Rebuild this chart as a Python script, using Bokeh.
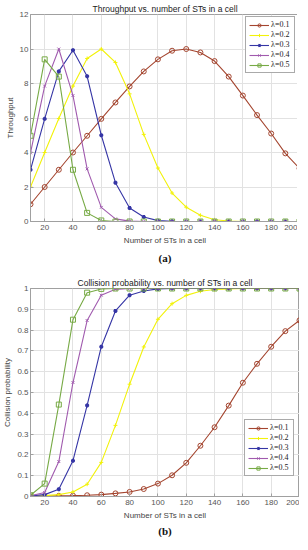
from bokeh.plotting import figure
from bokeh.layouts import column
from bokeh.models import FixedTicker, Title, Legend, LegendItem, Range1d
from bokeh.embed import file_html
from bokeh.resources import INLINE

n_sts = [10, 20, 30, 40, 50, 60, 70, 80, 90, 100, 110, 120, 130, 140, 150, 160, 170, 180, 190, 200]
labels = ["λ=0.1", "λ=0.2", "λ=0.3", "λ=0.4", "λ=0.5"]

thr_01 = [1.0, 2.0, 3.0, 4.0, 4.97, 5.95, 6.9, 7.83, 8.7, 9.4, 9.9, 10.0, 9.8, 9.3, 8.4, 7.3, 6.17, 5.1, 3.95, 3.08]
thr_02 = [2.0, 4.0, 5.97, 7.85, 9.45, 10.0, 9.22, 7.4, 5.05, 3.1, 1.65, 0.83, 0.36, 0.1, 0.03, 0.0, 0.0, 0.0, 0.0, 0.0]
thr_03 = [3.0, 5.95, 8.7, 9.93, 8.42, 5.0, 2.25, 0.78, 0.26, 0.05, 0.01, 0.0, 0.0, 0.0, 0.0, 0.0, 0.0, 0.0, 0.0, 0.0]
thr_04 = [3.98, 7.85, 10.0, 7.3, 3.05, 0.82, 0.15, 0.02, 0.0, 0.0, 0.0, 0.0, 0.0, 0.0, 0.0, 0.0, 0.0, 0.0, 0.0, 0.0]
thr_05 = [4.97, 9.4, 8.4, 3.0, 0.5, 0.06, 0.0, 0.0, 0.0, 0.0, 0.0, 0.0, 0.0, 0.0, 0.0, 0.0, 0.0, 0.0, 0.0, 0.0]

col_01 = [0.001, 0.002, 0.003, 0.004, 0.006, 0.009, 0.015, 0.022, 0.036, 0.062, 0.102, 0.162, 0.244, 0.333, 0.437, 0.547, 0.638, 0.72, 0.795, 0.847]
col_02 = [0.002, 0.004, 0.009, 0.022, 0.059, 0.164, 0.342, 0.54, 0.719, 0.852, 0.927, 0.967, 0.987, 0.995, 0.998, 1.0, 1.0, 1.0, 1.0, 1.0]
col_03 = [0.003, 0.009, 0.035, 0.172, 0.438, 0.72, 0.892, 0.968, 0.988, 0.998, 1.0, 1.0, 1.0, 1.0, 1.0, 1.0, 1.0, 1.0, 1.0, 1.0]
col_04 = [0.004, 0.019, 0.168, 0.548, 0.846, 0.968, 0.996, 1.0, 1.0, 1.0, 1.0, 1.0, 1.0, 1.0, 1.0, 1.0, 1.0, 1.0, 1.0, 1.0]
col_05 = [0.006, 0.062, 0.442, 0.85, 0.98, 0.998, 1.0, 1.0, 1.0, 1.0, 1.0, 1.0, 1.0, 1.0, 1.0, 1.0, 1.0, 1.0, 1.0, 1.0]

x_ticks = [20, 40, 60, 80, 100, 120, 140, 160, 180, 200]
thr_ticks = [0, 2, 4, 6, 8, 10, 12]
col_ticks = [0, 0.1, 0.2, 0.3, 0.4, 0.5, 0.6, 0.7, 0.8, 0.9, 1.0]
col_tick_labels = ["0", "0.1", "0.2", "0.3", "0.4", "0.5", "0.6", "0.7", "0.8", "0.9", "1"]

colors = ["#a4452f", "#f2f20a", "#3535a5", "#a05aae", "#77aa45"]
markers = ["circle", "cross", "asterisk", "x", "square"]
FONT = "Liberation Sans"


def style(p, yticks, ylabel, title, sub, sub_standoff):
    p.title.text = title
    p.title.text_font = FONT
    p.title.text_font_size = "8.5px"
    p.title.text_font_style = "normal"
    p.title.align = "center"
    p.title.text_color = "#222222"
    p.title.standoff = 2
    p.xaxis.ticker = FixedTicker(ticks=x_ticks)
    p.yaxis.ticker = FixedTicker(ticks=yticks)
    for ax in (p.xaxis, p.yaxis):
        ax.major_label_text_font = FONT
        ax.major_label_text_font_size = "8px"
        ax.major_label_text_color = "#555555"
        ax.axis_label_text_font = FONT
        ax.axis_label_text_font_size = "8px"
        ax.axis_label_text_font_style = "normal"
        ax.axis_label_text_color = "#444444"
        ax.axis_line_color = "#a0a0a0"
        ax.major_tick_line_color = "#a0a0a0"
        ax.major_tick_out = 0
        ax.major_tick_in = 3
        ax.minor_tick_line_color = None
        ax.major_label_standoff = 3
        ax.axis_label_standoff = 3
    p.xaxis.axis_label = "Number of STs in a cell"
    p.yaxis.axis_label = ylabel
    p.yaxis.major_label_standoff = 2
    p.yaxis.axis_label_standoff = 2
    p.grid.grid_line_color = "#e2e2e2"
    p.outline_line_color = "#a0a0a0"
    p.background_fill_color = "white"
    p.border_fill_color = "white"
    t = Title(text=sub, align="center", text_font="Liberation Serif",
              text_font_size="11px", text_font_style="bold", text_color="#111111",
              standoff=sub_standoff)
    p.add_layout(t, "below")


def add_series(p, series, loc):
    items = []
    for s, c, m, lab in zip(series, colors, markers, labels):
        r1 = p.line(n_sts, s, line_color=c, line_width=1.1)
        if m in ("circle", "square"):
            r2 = p.scatter(n_sts, s, marker=m, size=5, line_color=c, fill_color=None, line_width=1)
        elif m == "asterisk":
            r2 = p.scatter(n_sts, s, marker=m, size=4, line_color=c, line_width=1.6)
        else:
            r2 = p.scatter(n_sts, s, marker=m, size=4, line_color=c, line_width=1)
        items.append(LegendItem(label=lab, renderers=[r1, r2]))
    leg = Legend(items=items, location=loc)
    leg.label_text_font = "Liberation Serif"
    leg.label_text_font_size = "8px"
    leg.label_text_color = "#222222"
    leg.label_height = 8
    leg.glyph_height = 8
    leg.glyph_width = 20
    leg.spacing = 1
    leg.padding = 3
    leg.margin = 0
    leg.label_standoff = 2
    leg.border_line_color = "#555555"
    leg.background_fill_alpha = 1
    p.add_layout(leg, "center")


p1 = figure(frame_width=269, frame_height=207, output_backend="svg", toolbar_location=None,
            x_range=Range1d(10, 200), y_range=Range1d(0, 12),
            min_border_left=0, min_border_right=0, min_border_top=9, min_border_bottom=0)
style(p1, thr_ticks, "Throughput", "Throughput vs. number of STs in a cell", "(a)", 4)
add_series(p1, [thr_01, thr_02, thr_03, thr_04, thr_05], (217, 148))

p2 = figure(frame_width=269, frame_height=208, output_backend="svg", toolbar_location=None,
            x_range=Range1d(10, 200), y_range=Range1d(0, 1),
            min_border_left=0, min_border_right=0, min_border_top=0, min_border_bottom=0)
style(p2, col_ticks, "Collision probability", "Collision probability vs. number of STs in a cell", "(b)", 1)
p2.yaxis.major_label_overrides = {t: l for t, l in zip(col_ticks, col_tick_labels)}
add_series(p2, [col_01, col_02, col_03, col_04, col_05], (214, 20))

layout = column(p1, p2, spacing=9)
open("out.html", "w").write(file_html(layout, INLINE))
